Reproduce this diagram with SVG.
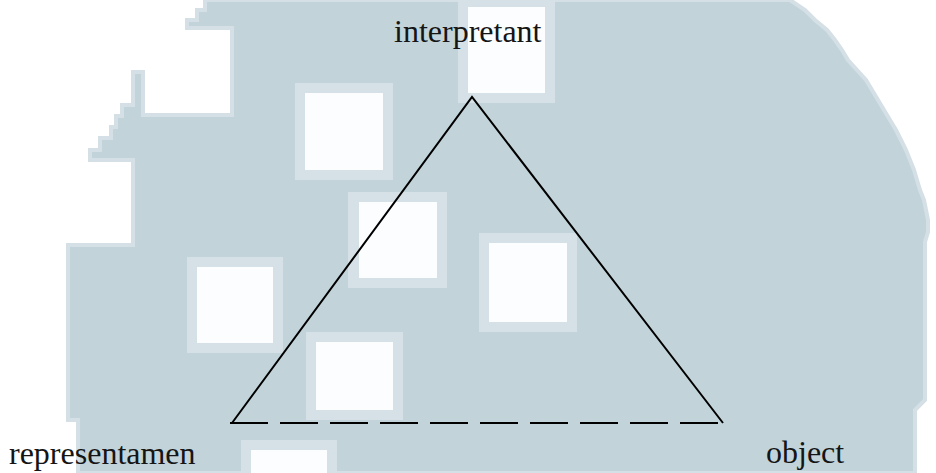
<svg xmlns="http://www.w3.org/2000/svg" width="936" height="473" viewBox="0 0 936 473">
<style>
.bg{fill:#c2d4da;stroke:#d4e0e5;stroke-width:4;stroke-linejoin:miter}
.sqo{fill:#d5e1e6}
.sqi{fill:#fbfdfe}
.lbl{font-family:"Liberation Serif","Times New Roman",serif;font-size:32px;fill:#151515}
.edge{fill:none;stroke:#000;stroke-width:2}
.dash{stroke-dasharray:38 12}
</style>
<rect x="0" y="0" width="936" height="473" fill="#ffffff"/>
<g id="watermark">
<polygon class="bg" points="205,0 790,0 805,10 815,20 827,30 835,40 842,50 848,60 857,70 866,80 872,90 878,100 884,110 890,120 896,130 901,140 906,150 910,160 914,170 917,180 920,190 924,200 926,210 928,220 928,232 925,242 925,400 915,410 915,473 78,473 78,420 68,420 68,245 133,245 133,160 90,160 90,150 100,150 100,138 111,138 111,127 116,127 116,116 122,116 122,105 133,105 133,72 143,72 143,115 232,115 232,28 187,28 187,20 197,20 197,10 205,10"/>
<rect class="sqo" x="458" y="0" width="97" height="103"/><rect class="sqi" x="468" y="7" width="77" height="86"/>
<rect class="sqo" x="295" y="83" width="98" height="97"/><rect class="sqi" x="305" y="93" width="78" height="77"/>
<rect class="sqo" x="348" y="192" width="99" height="96"/><rect class="sqi" x="359" y="202" width="78" height="76"/>
<rect class="sqo" x="479" y="233" width="98" height="99"/><rect class="sqi" x="489" y="243" width="78" height="79"/>
<rect class="sqo" x="187" y="257" width="96" height="96"/><rect class="sqi" x="197" y="267" width="76" height="76"/>
<rect class="sqo" x="306" y="332" width="97" height="88"/><rect class="sqi" x="316" y="342" width="77" height="68"/>
<rect class="sqo" x="241" y="440" width="96" height="40"/><rect class="sqi" x="251" y="450" width="76" height="30"/>
</g>
<g id="connectors">
<polyline class="edge" points="232,423 472,97 723,423"/>
<line class="edge dash" x1="230" y1="423" x2="723" y2="423"/>
</g>
<g id="node-interpretant"><text class="lbl" x="394" y="42">interpretant</text></g>
<g id="node-representamen"><text class="lbl" x="9" y="464">representamen</text></g>
<g id="node-object"><text class="lbl" x="766" y="463">object</text></g>
</svg>
